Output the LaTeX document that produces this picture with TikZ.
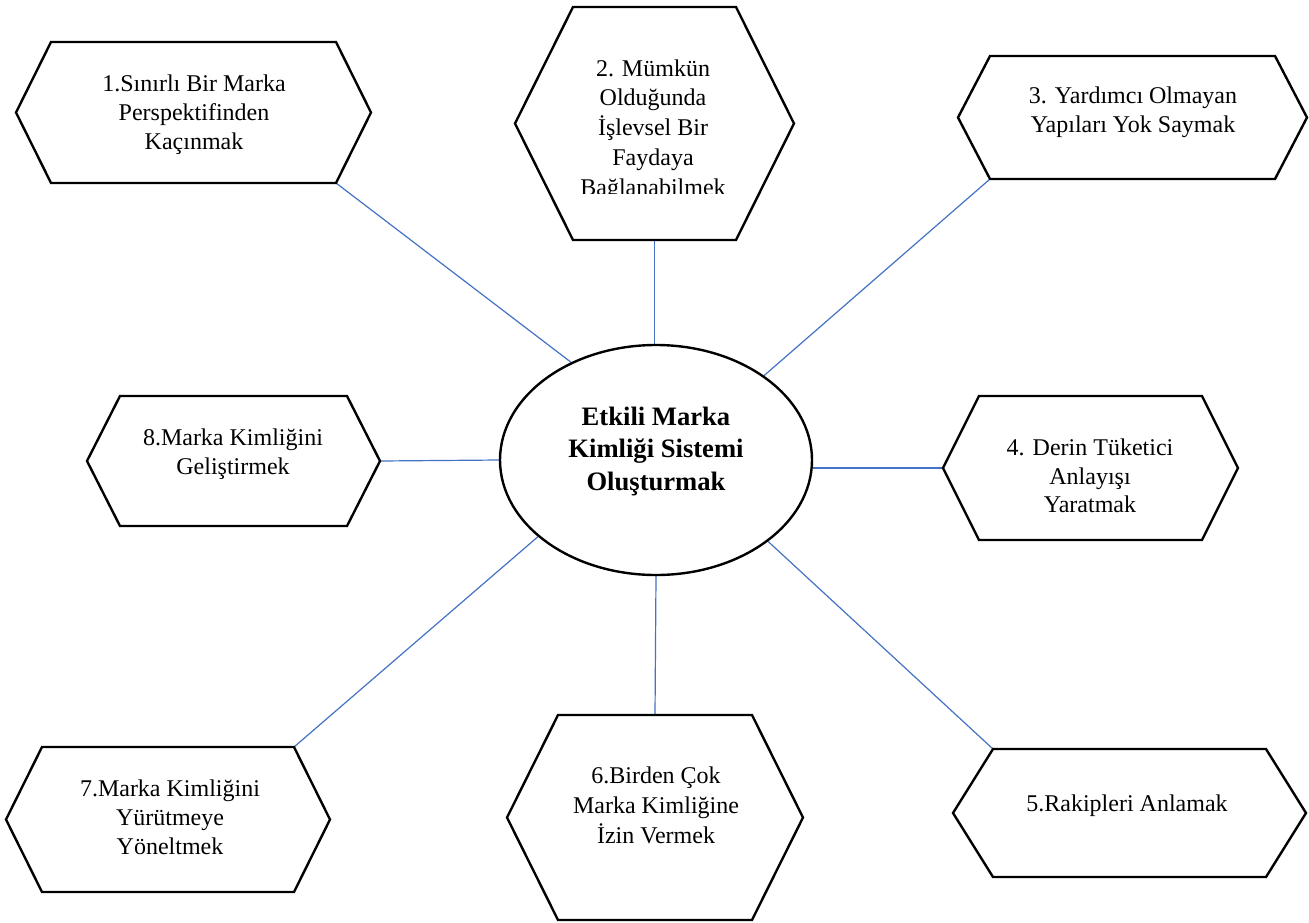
\documentclass[tikz,border=0pt]{standalone}
\usepackage{fontspec}
\setmainfont{Liberation Serif}
\usetikzlibrary{shapes.geometric,backgrounds}
\definecolor{linkblue}{HTML}{4472C4}
\tikzset{
  hexline/.style={draw=black, line width=2.4pt, line join=miter},
  hexlabel/.style={anchor=north, align=center, inner sep=0pt,
    font=\fontsize{24}{28.8}\selectfont},
  hublabel/.style={anchor=north, align=center, inner sep=0pt,
    font=\bfseries\fontsize{26.6}{32.5}\selectfont},
  hub/.style={ellipse, draw=black, line width=2.4pt, minimum width=312pt,
    minimum height=230pt, inner sep=0pt},
  link/.style={draw=linkblue, line width=1.2pt},
}
% fixed height for the first line of every label
\newcommand\firstline{\rule{0pt}{22pt}}
\newcommand\firstlinebold{\rule{0pt}{25pt}}
% flat-top hexagon: name, left, right, top, bottom, inset of the slanted sides
\newcommand\hexagonbox[6]{%
  \coordinate (#1-w)  at (#2,{(#4+#5)/2});
  \coordinate (#1-nw) at ({#2+#6},#4);
  \coordinate (#1-ne) at ({#3-#6},#4);
  \coordinate (#1-e)  at (#3,{(#4+#5)/2});
  \coordinate (#1-se) at ({#3-#6},#5);
  \coordinate (#1-sw) at ({#2+#6},#5);
  \coordinate (#1-n)  at ({(#2+#3)/2},#4);
  \coordinate (#1-s)  at ({(#2+#3)/2},#5);
  \draw[hexline] (#1-w) -- (#1-nw) -- (#1-ne) -- (#1-e) -- (#1-se) -- (#1-sw) -- cycle;
}
\begin{document}
\begin{tikzpicture}[x=1pt,y=-1pt]
\useasboundingbox (0,0) rectangle (1309,922);

% central ellipse
\node[hub] (c) at (656,460) {};
\node[hublabel] (ct) at (656,400)
  {\firstlinebold Etkili Marka\\Kimliği Sistemi\\Oluşturmak};

% surrounding hexagons
\hexagonbox{h1}{16}{371}{42}{183}{35}
\hexagonbox{h2}{515}{794}{7}{240}{58}
\hexagonbox{h3}{958}{1307}{56}{179}{32}
\hexagonbox{h4}{943}{1238}{396}{540}{36}
\hexagonbox{h5}{953}{1306}{749}{877}{40}
\hexagonbox{h6}{507}{803}{715}{920}{51}
\hexagonbox{h7}{6}{330}{747}{892}{36}
\hexagonbox{h8}{87}{380}{396}{526}{33}

% labels
\node[hexlabel] (t1) at (194,69.7)
  {\firstline 1.Sınırlı Bir Marka\\Perspektifinden\\Kaçınmak};
\begin{scope}
  \clip (500,0) rectangle (810,193.5);
  \node[hexlabel, font=\fontsize{24}{29.7}\selectfont] (t2) at (653,54)
    {\firstline 2. Mümkün\\Olduğunda\\İşlevsel Bir\\Faydaya\\Bağlanabilmek};
\end{scope}
\node[hexlabel] (t3) at (1133,81.3)
  {\firstline 3. Yardımcı Olmayan\\Yapıları Yok Saymak};
\node[hexlabel] (t4) at (1090,433)
  {\firstline 4. Derin Tüketici\\Anlayışı\\Yaratmak};
\node[hexlabel] (t5) at (1127,789.7)
  {\firstline 5.Rakipleri Anlamak};
\node[hexlabel, font=\fontsize{24}{30}\selectfont] (t6) at (656,761.3)
  {\firstline 6.Birden Çok\\Marka Kimliğine\\İzin Vermek};
\node[hexlabel, font=\fontsize{24}{29}\selectfont] (t7) at (170,774.7)
  {\firstline 7.Marka Kimliğini\\Yürütmeye\\Yöneltmek};
\node[hexlabel] (t8) at (233,423)
  {\firstline 8.Marka Kimliğini\\Geliştirmek};

% connectors
\begin{scope}[on background layer]
  \fill[white] (0,0) rectangle (1309,922);
  \draw[link] (h1-se) -- (c.131.7);
  \draw[link] (h2-s) -- (h2-s |- c.north);
  \draw[link] (h3-sw) -- (c.38.2);
  \draw[link] (c.east |- h4-w) -- (h4-w);
  \draw[link] (c.324.6) -- (h5-nw);
  \draw[link] (c.south) -- (h6-n);
  \draw[link] (h7-ne) -- (c.213.5);
  \draw[link] (h8-e) -- (c.west);
\end{scope}
\end{tikzpicture}
\end{document}
